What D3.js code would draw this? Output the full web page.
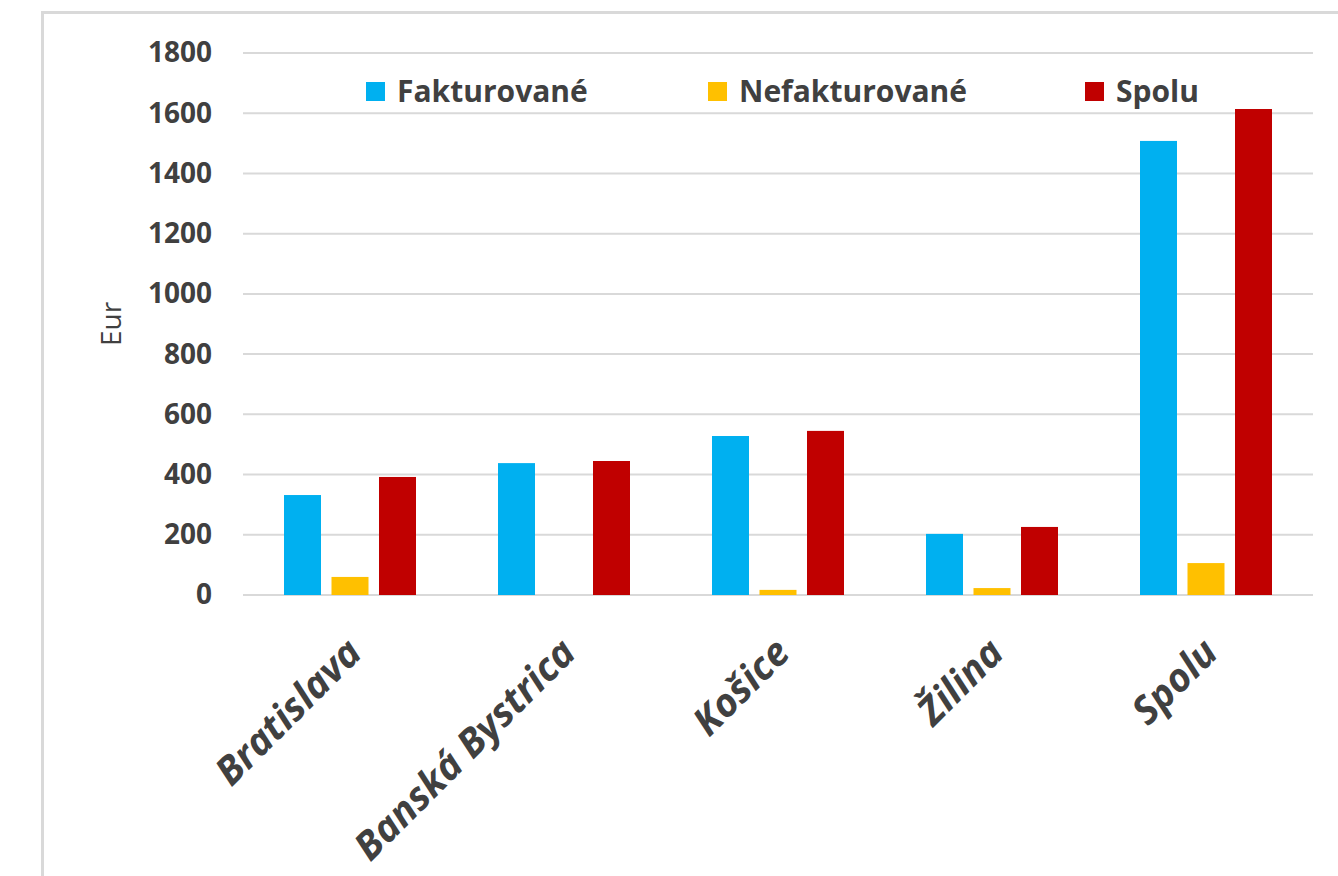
<!DOCTYPE html>
<html>
<head>
<meta charset="utf-8">
<script src="https://cdn.jsdelivr.net/npm/d3@7"></script>
<style>
  body { margin: 0; background: #fff; }
  text { font-family: "Open Sans", sans-serif; fill: #404040; }
</style>
</head>
<body>
<svg id="chart"></svg>
<script>
const categories = ["Bratislava", "Banská Bystrica", "Košice", "Žilina", "Spolu"]
const seriesNames = ["Fakturované", "Nefakturované", "Spolu"]
const fakturovane = [332, 438, 528, 203, 1508]
const nefakturovane = [60, 0, 17, 23, 106]
const spolu = [392, 445, 545, 226, 1614]
const yTicks = [0, 200, 400, 600, 800, 1000, 1200, 1400, 1600, 1800]
const colors = ["#00b0f0", "#ffc000", "#c00000"]

const W = 1338, H = 876
const plot = {left: 243, right: 1313, top: 53, bottom: 595}

const svg = d3.select("#chart").attr("width", W).attr("height", H)

// outer frame (cropped on right and bottom)
svg.append("rect")
  .attr("x", 42.5).attr("y", 12.5)
  .attr("width", 1400).attr("height", 1000)
  .attr("fill", "none").attr("stroke", "#d9d9d9").attr("stroke-width", 3)

const x0 = d3.scaleBand().domain(categories).range([plot.left, plot.right])
const x1 = d3.scaleBand().domain(seriesNames)
  .range([41, x0.bandwidth() - 41]).paddingInner(0.221)
const y = d3.scaleLinear().domain([0, 1800]).range([plot.bottom, plot.top])

// gridlines
svg.append("g").selectAll("line").data(yTicks).join("line")
  .attr("x1", plot.left).attr("x2", plot.right)
  .attr("y1", d => y(d)).attr("y2", d => y(d))
  .attr("stroke", "#d9d9d9").attr("stroke-width", 2)

// y axis labels
const yAxis = svg.append("g").attr("transform", `translate(${plot.left},0)`)
  .call(d3.axisLeft(y).tickValues(yTicks).tickFormat(d3.format("d"))
    .tickSize(0).tickPadding(31))
yAxis.select(".domain").remove()
yAxis.selectAll("text")
  .style("font-family", "Open Sans").style("font-size", "28px")
  .style("font-weight", "bold").attr("fill", "#404040")

svg.append("text")
  .attr("transform", "translate(121,324) rotate(-90)")
  .attr("text-anchor", "middle")
  .style("font-size", "28px")
  .text("Eur")

// bars
const rows = categories.map((c, i) => ({
  cat: c,
  vals: [fakturovane[i], nefakturovane[i], spolu[i]]
}))

const groups = svg.append("g").selectAll("g").data(rows).join("g")
  .attr("transform", d => `translate(${x0(d.cat)},0)`)

groups.selectAll("rect")
  .data(d => d.vals.map((v, j) => ({s: seriesNames[j], v: v, j: j})))
  .join("rect")
  .attr("x", d => x1(d.s))
  .attr("width", x1.bandwidth())
  .attr("y", d => y(d.v))
  .attr("height", d => y(0) - y(d.v))
  .attr("fill", d => colors[d.j])

// x axis labels
const xAxis = svg.append("g").attr("transform", `translate(0,${plot.bottom})`)
  .call(d3.axisBottom(x0).tickSize(0).tickPadding(0))
xAxis.select(".domain").remove()
xAxis.selectAll("text")
  .attr("text-anchor", "end")
  .attr("dy", 0).attr("y", 0)
  .attr("transform", "translate(14,60) rotate(-45)")
  .style("font-family", "Open Sans").style("font-size", "39px")
  .style("font-weight", "bold").style("font-style", "italic")
  .attr("fill", "#404040")

// legend
const legendX = [366, 708, 1085]
const legend = svg.append("g").selectAll("g").data(seriesNames).join("g")
  .attr("transform", (d, i) => `translate(${legendX[i]},82)`)
legend.append("rect").attr("width", 19).attr("height", 19)
  .attr("fill", (d, i) => colors[i])
legend.append("text").attr("x", 31).attr("y", 20)
  .style("font-size", "30px").style("font-weight", "bold")
  .text(d => d)
</script>
</body>
</html>
